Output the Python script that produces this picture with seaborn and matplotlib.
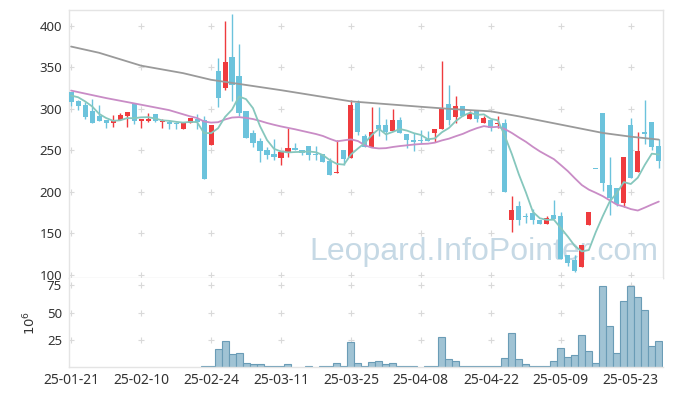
import numpy as np
import pandas as pd
import matplotlib
matplotlib.use('Agg')
import matplotlib.pyplot as plt
import seaborn as sns

# trading-day labels shown on the x axis (every 10th session)
tick_idx = [0, 10, 20, 30, 40, 50, 60, 70, 80]
tick_labels = ['25-01-21', '25-02-10', '25-02-24', '25-03-11', '25-03-25',
               '25-04-08', '25-04-22', '25-05-09', '25-05-23']

opens = [320, 309, 305, 297, 292, 286, 283, 286, 291, 306,
         285, 285, 294, 284, 284, 283, 276, 283, 288, 286,
         256, 346, 325, 363, 339, 297, 271, 261, 250, 246,
         241, 247.7, 252.5, 250, 255, 245.8, 246, 237.5, 222.4, 250,
         240.5, 306.7, 267.5, 254.6, 280, 281, 273.5, 287, 270, 262,
         263, 264, 270.8, 276, 306.4, 290, 304, 288, 297, 283,
         286, 282, 283.5, 166, 183.5, 171.5, 174.3, 166.6, 161.4, 172.4,
         171.4, 124, 118.4, 109.3, 160, 227.5, 295.3, 208.8, 204.8, 187,
         280, 223.6, 272.7, 283.7, 254.8]
highs = [320, 311, 308, 312, 305, 286, 293, 295, 296, 307,
         288, 295, 294, 288, 287, 284, 284, 289, 294, 291,
         281, 361, 406, 413.6, 378, 297, 275, 265, 254, 264,
         249, 277, 259.5, 251, 255, 255, 246, 240.5, 262, 250,
         311, 311, 270, 302.4, 302, 288, 300, 290, 270, 271,
         275, 273, 276.2, 357.4, 329, 315, 304, 298, 297, 291,
         286, 291, 288, 194.7, 188.7, 174.7, 179, 166.6, 170.6, 190.4,
         176.3, 124, 124.4, 136.5, 176.3, 227.5, 295.3, 242, 204.8, 242.3,
         289.3, 272.3, 311.2, 283.7, 263.5]
lows = [303, 299, 288, 283, 285, 277, 278, 286, 278, 282,
        277, 284, 284, 277, 276, 276, 276, 283, 276, 216,
        256, 302, 323, 310, 291, 265, 254, 236, 240, 239,
        232, 242, 250, 245, 239, 239, 236, 220, 222.4, 232,
        240.5, 268, 254, 254.6, 267, 263, 273.5, 271, 253, 249,
        259, 261, 260, 276, 281, 283, 292, 288, 284, 283,
        273, 277, 199.5, 151.3, 160, 163, 162, 161, 161.4, 167.9,
        118.7, 110.4, 104, 109.3, 160, 227.5, 201, 172.7, 182.7, 181.7,
        216.2, 223.6, 257.8, 251, 229]
closes = [308, 304, 290, 283, 285, 283, 287, 293, 296, 285,
          288, 288, 285, 285, 282, 282, 283.5, 289, 284, 216,
          281, 313, 357, 328.5, 295, 265, 258.6, 249, 245, 242,
          248.6, 253.4, 251, 246.5, 244, 244, 236, 220, 224.5, 240,
          305, 272, 254, 272.7, 276, 272, 287, 271, 263, 260.5,
          261.5, 261, 276.2, 300, 286, 304, 292, 294.5, 287.5, 288.7,
          277, 283.5, 199.5, 178.7, 166.7, 169.3, 165.8, 161, 169, 167.9,
          118.7, 114.5, 104.4, 136.5, 176.3, 227.5, 210.5, 192.8, 186, 242.3,
          216.2, 248.8, 269.6, 253.5, 237]

# volume in millions (None = no bar)
volume = [None] * 19 + [
    1.2, 1.2, 16.5, 23.8, 11.7, 12.6, 3.5, 2.6, 2.6, 1.2,
    1.2, 1.2, 2.6, None, None, 1.2, None, 1.2, 1.2, 3.5,
    1.2, 22.6, 3.5, 1.2, 4.4, 5.3, 2.6, 3.5, 1.2, 1.2,
    1.2, None, 1.2, 1.2, 27.2, 7.4, 5.3, 1.2, 1.2, 1.2,
    1.2, 1.2, 1.2, 8.1, 31.1, 7.4, 2.6, 1.2, 1.2, 1.2,
    5.3, 17.2, 9.0, 10.8, 29.0, 14.4, 3.5, 74.7, 38.0, 12.6,
    60.8, 74.7, 64.4, 52.6, 19.0, 23.8]

# moving-average values before the window is full
ma5_head = [316, 314, 309, 303]
ma20_head_idx = [0, 5, 10, 14, 17, 18]
ma20_head = [322, 313, 305, 298.5, 291, 289]
ma_long_idx = [0, 4, 10, 16, 20, 30, 40, 50, 54, 60, 64, 70, 76, 80, 84]
ma_long = [375, 367.5, 352, 343, 335, 322.5, 309, 302.5, 300, 297, 291, 281, 271, 266.5, 263]

df = pd.DataFrame({'open': opens, 'high': highs, 'low': lows, 'close': closes,
                   'volume': pd.array(volume, dtype='Float64').astype(float)})
df['idx'] = np.arange(len(df))
ma5 = df['close'].rolling(5).mean()
ma5.iloc[:4] = ma5_head
ma20 = df['close'].rolling(20).mean()
ma20_x = ma20_head_idx + list(range(19, len(df)))
ma20_y = ma20_head + list(ma20.iloc[19:])

sns.set_style('white')
plt.rcParams['font.family'] = ['Noto Sans', 'DejaVu Sans']

RED = '#ef3b3e'
BLUE = '#6cc3dc'
SPINE = '#e4e4e4'
TXT = '#333333'

fig = plt.figure(figsize=(6.73, 3.96), dpi=100)
ax = fig.add_axes([69 / 673, 1 - 278 / 396, 594 / 673, 268 / 396])
axv = fig.add_axes([69 / 673, 1 - 367 / 396, 594 / 673, 89 / 396], sharex=ax)

price_ticks = [100, 150, 200, 250, 300, 350, 400]
vol_ticks = [25, 50, 75]

# cross markers at grid intersections
gx, gy = np.meshgrid(tick_idx, price_ticks)
ax.scatter(gx.ravel(), gy.ravel(), marker='+', s=14, color='#d9d9d9', linewidths=0.8, zorder=0)
gx, gy = np.meshgrid(tick_idx, vol_ticks)
axv.scatter(gx.ravel(), gy.ravel(), marker='+', s=14, color='#d9d9d9', linewidths=0.8, zorder=0)

# watermark
ax.text(0.719, 0.364, 'Leopard.InfoPointer.com', transform=fig.transFigure,
        ha='center', va='center', fontsize=23, color='#c6d9e5',
        family=['Liberation Sans', 'DejaVu Sans'], zorder=0.5)

# candles
up = df['close'] > df['open']
colors = np.where(up, RED, BLUE)
ax.vlines(df['idx'], df['low'], df['high'], colors=colors, linewidth=1.0, zorder=2)
body_lo = df[['open', 'close']].min(axis=1)
body_h = (df['close'] - df['open']).abs().clip(lower=1.2)
ax.bar(df['idx'], body_h, bottom=body_lo, width=0.72, color=colors, linewidth=0, zorder=3)

# moving averages
sns.lineplot(x=ma_long_idx, y=ma_long, ax=ax, color='#9a9a9a', linewidth=1.3, zorder=4)
sns.lineplot(x=ma20_x, y=ma20_y, ax=ax, color='#c98cc6', linewidth=1.3, zorder=4)
sns.lineplot(x=df['idx'], y=ma5, ax=ax, color='#86c7bd', linewidth=1.3, zorder=4)

# volume
vd = df.dropna(subset=['volume'])
axv.bar(vd['idx'], vd['volume'], width=1.0, color='#a0c3d4', edgecolor='#6a9cb6',
        linewidth=0.8, zorder=2)

ax.set_xlim(-0.3, 84.6)
ax.set_ylim(96.4, 419)
axv.set_ylim(0, 81.7)

ax.set_yticks(price_ticks)
axv.set_yticks(vol_ticks)
axv.set_xticks(tick_idx)
axv.set_xticklabels(tick_labels)
ax.tick_params(axis='x', labelbottom=False, length=0)
ax.tick_params(axis='y', length=0, pad=5, labelsize=9.5, labelcolor=TXT)
axv.tick_params(axis='y', length=0, pad=5, labelsize=9.5, labelcolor=TXT)
axv.tick_params(axis='x', length=0, pad=4, labelsize=10, labelcolor=TXT)
ax.set_xlabel('')
ax.set_ylabel('')
axv.set_ylabel(r'$10^6$', fontsize=9.5, color=TXT, labelpad=6)

for a in (ax, axv):
    for s in a.spines.values():
        s.set_color(SPINE)
        s.set_linewidth(1.0)
axv.spines['top'].set_visible(False)
axv.spines['right'].set_visible(False)

fig.savefig('out.png', dpi=100)
